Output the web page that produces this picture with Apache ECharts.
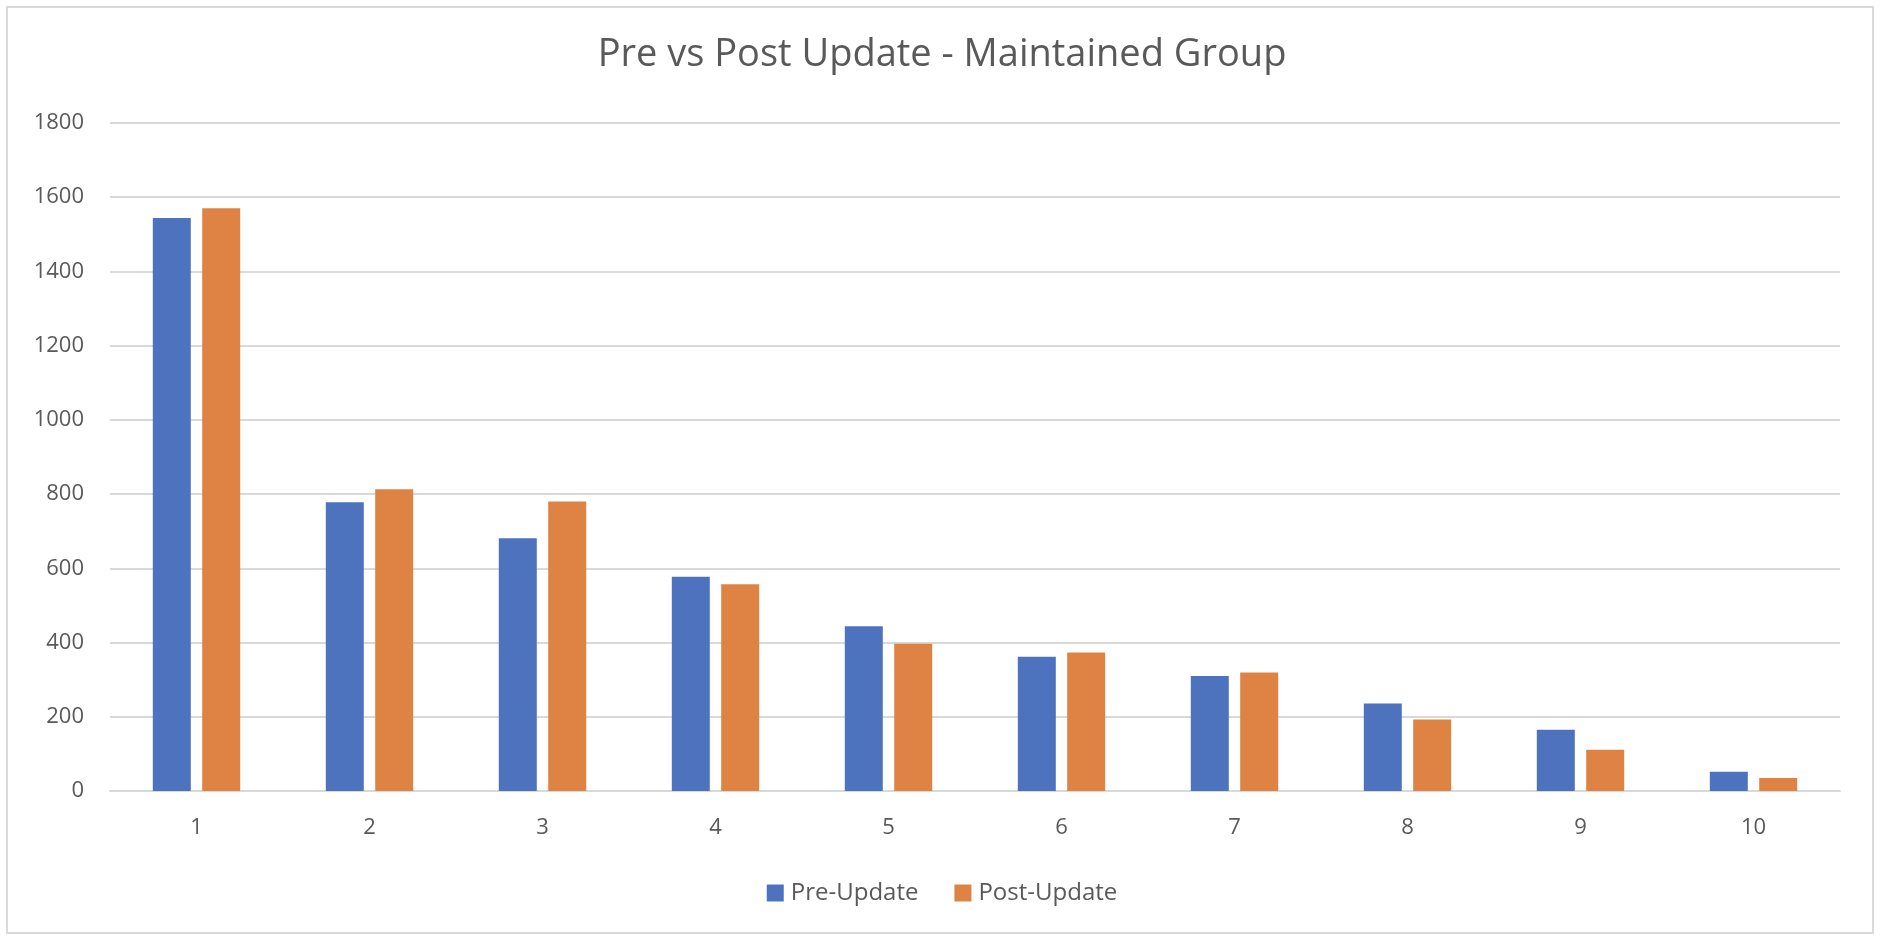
<!DOCTYPE html>
<html>
<head>
<meta charset="utf-8">
<script src="https://cdn.jsdelivr.net/npm/echarts@6/dist/echarts.min.js"></script>
<style>
html,body{margin:0;padding:0;background:#fff;}
#frame{position:absolute;left:6px;top:6px;width:1868px;height:928px;border:2px solid #d9d9d9;box-sizing:border-box;}
#chart{position:absolute;left:0;top:0;width:1884px;height:946px;}
</style>
</head>
<body>
<div id="frame"></div>
<div id="chart"></div>
<script>
const categories = ['1','2','3','4','5','6','7','8','9','10'];
const preUpdate = [1544, 778, 681, 577, 444, 362, 310, 236, 165, 52];
const postUpdate = [1570, 813, 780, 557, 397, 373, 319, 193, 111, 35];
const seriesNames = ['Pre-Update', 'Post-Update'];
const titleText = 'Pre vs Post Update - Maintained Group';

const font = '"Open Sans", "Noto Sans", sans-serif';
const chart = echarts.init(document.getElementById('chart'), null, {renderer: 'canvas'});
chart.setOption({
  animation: false,
  backgroundColor: 'transparent',
  title: {
    text: titleText,
    left: 'center',
    top: 31,
    textStyle: {fontFamily: font, fontSize: 38, fontWeight: 'normal', color: '#595959'}
  },
  legend: {
    data: seriesNames,
    bottom: 36,
    left: 'center',
    itemWidth: 17,
    itemHeight: 17,
    itemGap: 36,
    icon: 'rect',
    textStyle: {fontFamily: font, fontSize: 24, color: '#595959', padding: [0,0,0,2]}
  },
  grid: {left: 110, right: 44, top: 123, bottom: 155, containLabel: false},
  xAxis: {
    type: 'category',
    data: categories,
    axisTick: {show: false},
    axisLine: {show: true, lineStyle: {color: '#d9d9d9', width: 2}},
    axisLabel: {fontFamily: font, fontSize: 22, color: '#595959', margin: 26}
  },
  yAxis: {
    type: 'value',
    min: 0,
    max: 1800,
    interval: 200,
    axisLine: {show: false},
    axisTick: {show: false},
    splitLine: {lineStyle: {color: '#d9d9d9', width: 2}},
    axisLabel: {fontFamily: font, fontSize: 22, color: '#595959', margin: 26,
      formatter: function (v) { return String(v); }}
  },
  series: [
    {name: seriesNames[0], type: 'bar', data: preUpdate, barWidth: 38, barGap: '30%',
     itemStyle: {color: '#4E73BE'}},
    {name: seriesNames[1], type: 'bar', data: postUpdate, barWidth: 38, barGap: '30%',
     itemStyle: {color: '#DE8344'}}
  ]
});
</script>
</body>
</html>
